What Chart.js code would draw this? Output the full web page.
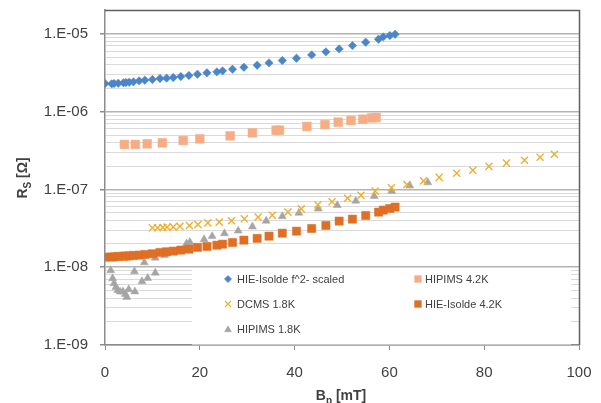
<!DOCTYPE html>
<html>
<head>
<meta charset="utf-8">
<script src="https://cdn.jsdelivr.net/npm/chart.js@4/dist/chart.umd.min.js"></script>
<style>
html,body{margin:0;padding:0;background:#fff;}
#wrap{width:601px;height:403px;}
</style>
</head>
<body>
<div id="wrap"><canvas id="c" width="601" height="403"></canvas></div>
<script>
// ---- data ----
const bHIE = [0,1.4,1.9,2.8,3.9,4.4,5.1,6.0,7.2,8.4,10.0,11.6,13.0,14.4,16.0,17.7,19.5,21.5,23.6,24.8,26.9,29.3,32.1,34.6,37.4,40.4,43.6,46.6,49.4,52.2,55.0,57.7,58.7,60.1,61.2];
const rsHIEf2 = [2.30e-6,2.28e-6,2.30e-6,2.32e-6,2.35e-6,2.37e-6,2.39e-6,2.42e-6,2.49e-6,2.54e-6,2.59e-6,2.67e-6,2.70e-6,2.75e-6,2.83e-6,2.92e-6,3.03e-6,3.16e-6,3.25e-6,3.35e-6,3.52e-6,3.73e-6,3.96e-6,4.24e-6,4.55e-6,4.87e-6,5.37e-6,5.88e-6,6.42e-6,7.08e-6,7.82e-6,8.55e-6,9.16e-6,9.53e-6,9.91e-6];
const rsHIE42 = [1.35e-8,1.35e-8,1.36e-8,1.38e-8,1.39e-8,1.39e-8,1.40e-8,1.42e-8,1.43e-8,1.46e-8,1.49e-8,1.55e-8,1.58e-8,1.61e-8,1.66e-8,1.71e-8,1.80e-8,1.85e-8,1.92e-8,1.98e-8,2.08e-8,2.23e-8,2.35e-8,2.51e-8,2.74e-8,2.91e-8,3.15e-8,3.45e-8,3.92e-8,4.15e-8,4.63e-8,5.11e-8,5.42e-8,5.70e-8,5.93e-8];
const bHIPIMS42 = [4.1,6.4,8.9,12.1,16.5,20.0,26.4,31.1,36.1,36.8,42.6,46.4,49.2,51.9,54.4,56.3,57.2];
const rsHIPIMS42 = [3.79e-7,3.79e-7,3.86e-7,3.97e-7,4.26e-7,4.47e-7,4.89e-7,5.34e-7,5.78e-7,5.78e-7,6.45e-7,6.84e-7,7.33e-7,7.71e-7,8.01e-7,8.32e-7,8.42e-7];
const bDCMS = [10.0,11.1,12.2,13.1,14.4,15.8,17.8,19.6,21.7,24.1,26.7,29.4,32.3,35.3,38.6,41.4,44.9,47.9,51.2,54.0,57.0,60.4,63.7,67.2,70.5,74.2,77.6,81.0,84.7,88.5,91.8,94.8];
const rsDCMS = [3.21e-8,3.21e-8,3.25e-8,3.28e-8,3.30e-8,3.37e-8,3.44e-8,3.55e-8,3.72e-8,3.80e-8,3.95e-8,4.19e-8,4.41e-8,4.67e-8,5.11e-8,5.63e-8,6.34e-8,6.93e-8,7.69e-8,8.40e-8,9.51e-8,1.05e-7,1.16e-7,1.29e-7,1.43e-7,1.62e-7,1.77e-7,1.98e-7,2.18e-7,2.38e-7,2.60e-7,2.84e-7];
const bHIPIMS18 = [1.2,1.6,1.9,2.3,2.7,3.2,3.8,4.3,4.6,5.0,6.2,6.3,7.8,8.3,9.0,10.6,10.6,12.6,17.2,17.9,20.9,22.6,25.2,28.1,31.1,34.0,37.4,40.9,45.0,49.0,52.9,56.8,60.5,64.3,68.1];
const rsHIPIMS18 = [9.10e-9,7.18e-9,6.19e-9,5.55e-9,5.08e-9,4.83e-9,4.86e-9,4.51e-9,4.13e-9,5.19e-9,8.83e-9,4.86e-9,6.56e-9,1.15e-8,7.24e-9,8.47e-9,1.32e-8,1.43e-8,2.02e-8,2.10e-8,2.28e-8,2.50e-8,2.72e-8,2.94e-8,3.33e-8,3.95e-8,4.51e-8,4.99e-8,5.66e-8,6.26e-8,7.11e-8,8.18e-8,9.51e-8,1.12e-7,1.23e-7];

const seriesNames = ['HIE-Isolde f^2- scaled','HIPIMS 4.2K','DCMS 1.8K','HIE-Isolde 4.2K','HIPIMS 1.8K'];
const xTicks = [0,20,40,60,80,100];
const yDecades = [1e-9,1e-8,1e-7,1e-6,1e-5];
const xTitle = ['B','p',' [mT]'];
const yTitle = ['R','S',' [Ω]'];

const C_BLUE='#4a86c8', C_SALMON='#f6ad85', C_GOLD='#edb02e', C_ORANGE='#df6f24', C_GRAY='#a5a5a5';

function pts(xs, ys){ return xs.map((x,i)=>({x:x, y:ys[i]})); }
function isDecade(v){ const e=Math.log10(v); return Math.abs(e-Math.round(e))<1e-6; }

const FONT='"Liberation Sans", Arial, sans-serif';

const datasets = [
  {label:seriesNames[0], data:pts(bHIE,rsHIEf2), pointStyle:'rectRot', pointRadius:4.2, backgroundColor:C_BLUE, borderColor:C_BLUE, borderWidth:0.5},
  {label:seriesNames[1], data:pts(bHIPIMS42,rsHIPIMS42), pointStyle:'rect', pointRadius:6.2, backgroundColor:C_SALMON, borderColor:C_SALMON, borderWidth:0.5},
  {label:seriesNames[2], data:pts(bDCMS,rsDCMS), pointStyle:'crossRot', pointRadius:5, backgroundColor:C_GOLD, borderColor:C_GOLD, borderWidth:1.4},
  {label:seriesNames[3], data:pts(bHIE,rsHIE42), pointStyle:'rect', pointRadius:5.8, backgroundColor:C_ORANGE, borderColor:C_ORANGE, borderWidth:0.5},
  {label:seriesNames[4], data:pts(bHIPIMS18,rsHIPIMS18), pointStyle:'triangle', pointRadius:4.6, backgroundColor:C_GRAY, borderColor:C_GRAY, borderWidth:0.5}
];
datasets.forEach(d=>{ d.showLine=false; d.pointHoverRadius=d.pointRadius; });

const overlay = {
  id:'overlay',
  beforeDatasetsDraw(chart){
    const ctx=chart.ctx, ca=chart.chartArea;
    ctx.save();
    ctx.fillStyle='#ffffff';
    ctx.fillRect(192, 268, 379, ca.bottom-268-0.5);
    const items=[
      {ds:0,x:228,y:279},{ds:1,x:418,y:279},
      {ds:2,x:228,y:304},{ds:3,x:418,y:304},
      {ds:4,x:228,y:329}
    ];
    ctx.font='11px '+FONT;
    ctx.textBaseline='middle';
    ctx.textAlign='left';
    items.forEach(it=>{
      const d=datasets[it.ds];
      ctx.fillStyle=d.backgroundColor; ctx.strokeStyle=d.borderColor;
      ctx.lineWidth=d.pointStyle==='crossRot'?1.2:0.5;
      let r = d.pointStyle==='rect'?4.8:(d.pointStyle==='rectRot'?3.6:(d.pointStyle==='triangle'?4:4.2));
      Chart.helpers.drawPoint(ctx,{pointStyle:d.pointStyle,radius:r,rotation:0,borderWidth:ctx.lineWidth},it.x,it.y+(d.pointStyle==='triangle'?0.8:0));
      ctx.fillStyle='#404040';
      ctx.fillText(d.label, it.x+(it.ds%2===0?9:7), it.y+0.5);
    });
    ctx.restore();
  },
  afterDraw(chart){
    const ctx=chart.ctx, ca=chart.chartArea;
    ctx.save();
    ctx.strokeStyle='#5f5f5f'; ctx.lineWidth=1.5;
    ctx.beginPath();
    ctx.moveTo(ca.left, ca.top+0.5); ctx.lineTo(ca.right+0.5, ca.top+0.5); ctx.lineTo(ca.right+0.5, ca.bottom);
    ctx.stroke();
    ctx.fillStyle='#404040';
    ctx.textBaseline='alphabetic';
    ctx.textAlign='left';
    const big='bold 14px '+FONT, small='bold 10px '+FONT;
    function titleWidth(t){
      ctx.font=big; let w=ctx.measureText(t[0]).width+ctx.measureText(t[2]).width;
      ctx.font=small; w+=ctx.measureText(t[1]).width; return w;
    }
    function drawTitle(t, x0, base){
      ctx.font=big; ctx.fillText(t[0], x0, base); let x=x0+ctx.measureText(t[0]).width;
      ctx.font=small; ctx.fillText(t[1], x, base+3.5); x+=ctx.measureText(t[1]).width;
      ctx.font=big; ctx.fillText(t[2], x, base);
    }
    let w=titleWidth(xTitle);
    drawTitle(xTitle, 341-w/2, 400);
    w=titleWidth(yTitle);
    ctx.translate(27, 178);
    ctx.rotate(-Math.PI/2);
    drawTitle(yTitle, -w/2, 0);
    ctx.restore();
  }
};

new Chart(document.getElementById('c'), {
  type:'scatter',
  data:{datasets:datasets},
  options:{
    responsive:false,
    animation:false,
    devicePixelRatio:1,
    layout:{padding:{left:0,right:22,top:10,bottom:0}},
    plugins:{legend:{display:false}, tooltip:{enabled:false}, title:{display:false}},
    scales:{
      x:{
        type:'linear', min:0, max:100,
        afterBuildTicks(scale){ scale.ticks = xTicks.map(v=>({value:v})); },
        afterFit(scale){ scale.height=58; scale.paddingLeft=0; scale.paddingRight=0; },
        ticks:{autoSkip:false, maxRotation:0, padding:14, color:'#404040', font:{family:FONT,size:15}},
        grid:{drawOnChartArea:false, drawTicks:true, tickLength:5, tickColor:'#8c8c8c', lineWidth:1},
        border:{display:true, color:'#8c8c8c', width:1.5}
      },
      y:{
        type:'logarithmic', min:1e-9, max:2.03e-5,
        afterBuildTicks(scale){
          const t=[];
          yDecades.forEach((d,i)=>{
            t.push({value:d});
            if(i<yDecades.length-1){ for(let k=2;k<=9;k++) t.push({value:k*d}); }
          });
          scale.ticks=t;
        },
        afterFit(scale){ scale.width=105; scale.paddingTop=0; scale.paddingBottom=0; },
        ticks:{
          autoSkip:false, padding:12, color:'#404040', font:{family:FONT,size:15},
          callback(v){
            if(!isDecade(v)) return '';
            const e=Math.round(Math.log10(v));
            const a=Math.abs(e);
            return '1.E'+(e<0?'-':'+')+(a<10?'0':'')+a;
          }
        },
        grid:{
          drawOnChartArea:true, drawTicks:true, tickLength:5,
          color(ctx){ return (ctx.tick && isDecade(ctx.tick.value)) ? '#b3b3b3' : '#dadada'; },
          lineWidth(ctx){ return (ctx.tick && isDecade(ctx.tick.value)) ? 1.5 : 1; },
          tickColor(ctx){ return (ctx.tick && isDecade(ctx.tick.value)) ? '#8c8c8c' : 'rgba(0,0,0,0)'; }
        },
        border:{display:true, color:'#8c8c8c', width:1.5}
      }
    }
  },
  plugins:[overlay]
});
</script>
</body>
</html>
